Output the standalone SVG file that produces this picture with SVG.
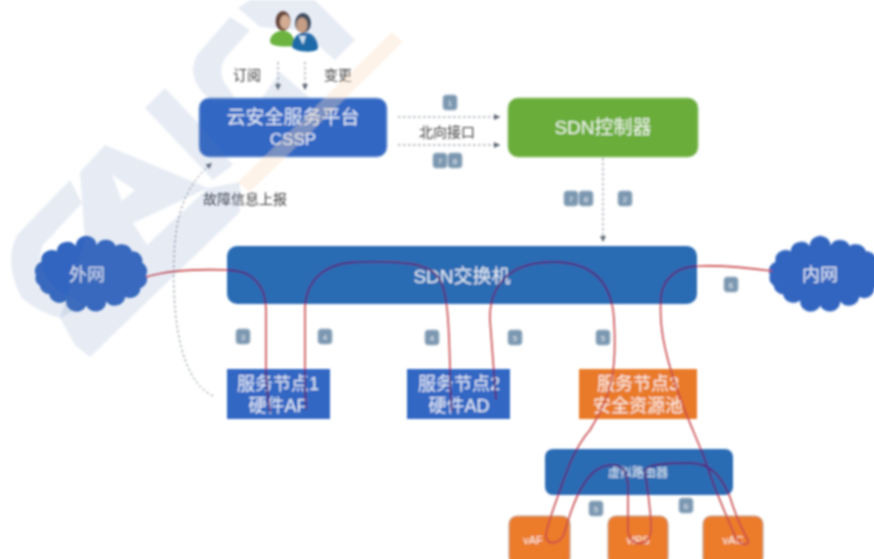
<svg xmlns="http://www.w3.org/2000/svg" width="874" height="559" viewBox="0 0 874 559">
<style>
text{font-family:"Liberation Sans","Noto Sans CJK SC",sans-serif;text-anchor:middle}
.w{fill:#fff;fill-opacity:.88}
.d{fill:#3d3d3d;font-size:14px}
.b1{fill:#2b6cb4}
.b2{fill:#3368c4;stroke:#8fb0de;stroke-width:1}
.o{fill:#ec7c2c;stroke:#b9a08c;stroke-width:1}
.cl{fill:#3265c0}
.dash{fill:none;stroke:#77808c;stroke-width:1;stroke-dasharray:2.5 2.5}
.red{fill:none;stroke:#c9484c;stroke-width:1.6}
.pur{fill:none;stroke:#4c2c85;stroke-width:1.8}
.bd{fill:#7b97b0;stroke:#a9bccd;stroke-width:1}
.bt{fill:#e8eef4;font-size:8px}
.wm{fill:#5f7fb5;fill-opacity:.15}
</style>
<defs>
<filter id="soft" x="0" y="0" width="874" height="559" filterUnits="userSpaceOnUse"><feGaussianBlur stdDeviation="0.8"/></filter>
<marker id="ah" markerWidth="7" markerHeight="7" refX="6" refY="3" orient="auto" markerUnits="userSpaceOnUse"><path d="M0,0L6,3L0,6Z" fill="#5f6775"/></marker>
<path id="cloud" d="M-58,0A11,11 0 0 1 -52,-15A11,11 0 0 1 -36,-27A11,11 0 0 1 -16,-33A11,11 0 0 1 6,-34A11,11 0 0 1 26,-33A11,11 0 0 1 43,-27A11,11 0 0 1 54,-14A11,11 0 0 1 58,0A11,11 0 0 1 52,15A11,11 0 0 1 36,25A11,11 0 0 1 16,30A11,11 0 0 1 -5,35A11,11 0 0 1 -26,29A11,11 0 0 1 -44,22A11,11 0 0 1 -54,12A11,11 0 0 1 -58,0Z"/>
<clipPath id="blues"><rect x="227" y="246" width="470" height="58" rx="10"/><rect x="227" y="369" width="103" height="50"/><rect x="407" y="369" width="103" height="50"/><rect x="545" y="449" width="188" height="46" rx="8"/></clipPath>
</defs>
<rect width="874" height="559" fill="#fff"/>
<g filter="url(#soft)">
<g id="people">
<path d="M270,42C270,34 278,30 284,31C291,31 295,38 295,46C285,47 272,47 270,42Z" fill="#6cb33f"/>
<ellipse cx="283" cy="21" rx="7.5" ry="10" fill="#6b3f2a"/>
<ellipse cx="285" cy="22" rx="5" ry="7" fill="#e8b48e"/>
<path d="M292,47C292,38 298,32 305,33C313,32 318,40 318,48C318,53 296,53 292,47Z" fill="#1f6aa8"/>
<ellipse cx="303" cy="23" rx="8" ry="10" fill="#3a4550"/>
<ellipse cx="302" cy="25" rx="5.5" ry="7.5" fill="#d8a27c"/>
<path d="M299,36L303,45L306,36Z" fill="#cfe3f2"/>
</g>
<g id="connectors">
<path class="dash" d="M278,62V90" marker-end="url(#ah)"/>
<path class="dash" d="M305,62V90" stroke-dasharray="2 3" marker-end="url(#ah)"/>
<path class="dash" d="M398,117H500" marker-end="url(#ah)"/>
<path class="dash" d="M398,145H500" marker-end="url(#ah)"/>
<path class="dash" d="M603,158V242" marker-end="url(#ah)"/>
<path class="dash" d="M213,396C190,385 176,350 174,290C172,225 180,190 212,163" marker-end="url(#ah)"/>
</g>
<g id="node-cssp"><rect class="b2" x="199" y="98" width="188" height="59" rx="10"/><text class="w" x="293" y="124" font-size="19">云安全服务平台</text><text class="w" x="293" y="145" font-size="17">CSSP</text></g>
<g id="node-controller"><rect x="508" y="98" width="190" height="59" rx="10" fill="#6aad3b" stroke="#9cc87c"/><text class="w" x="603" y="134" font-size="19">SDN控制器</text></g>
<g id="node-switch"><rect class="b1" x="227" y="246" width="470" height="58" rx="10"/><text class="w" x="462" y="283" font-size="19">SDN交换机</text></g>
<g id="node-wan"><use href="#cloud" class="cl" transform="translate(91,275) scale(.95,.88)"/><text class="w" x="87" y="281" font-size="18">外网</text></g>
<g id="node-lan"><use href="#cloud" class="cl" transform="translate(825,275) scale(.95,.88)"/><text class="w" x="820" y="281" font-size="18">内网</text></g>
<g id="node-sn1"><rect x="227" y="369" width="103" height="50" fill="#3368c4"/><text class="w" x="278" y="390" font-size="18">服务节点1</text><text class="w" x="278" y="412" font-size="18">硬件AF</text></g>
<g id="node-sn2"><rect x="407" y="369" width="103" height="50" fill="#3368c4"/><text class="w" x="459" y="390" font-size="18">服务节点2</text><text class="w" x="459" y="412" font-size="18">硬件AD</text></g>
<g id="node-sn3"><rect x="579" y="369" width="118" height="50" fill="#e97a2a"/><text class="w" x="638" y="390" font-size="18">服务节点3</text><text class="w" x="638" y="412" font-size="18">安全资源池</text></g>
<g id="node-vrouter"><rect class="b1" x="545" y="449" width="188" height="46" rx="8"/><text class="w" x="638" y="477" font-size="12">虚拟路由器</text></g>
<g id="node-vaf"><rect class="o" x="509" y="516" width="61" height="50" rx="8"/><text class="w" x="533" y="544" font-size="11">vAF</text></g>
<g id="node-vips"><rect class="o" x="608" y="516" width="60" height="50" rx="8"/><text class="w" x="638" y="544" font-size="11">vIPS</text></g>
<g id="node-vac"><rect class="o" x="703" y="516" width="60" height="50" rx="8"/><text class="w" x="733" y="544" font-size="11">vAC</text></g>
<g id="links">
<g id="traffic" class="red">
<path d="M146,277C170,270 200,269 227,270C252,270 266,285 266,310V370Q267,395 270,412"/>
<path d="M306,410Q305,390 305,370L305,310C305,280 325,262 360,262C400,261 430,262 440,280C447,292 449,320 450,370Q450,395 452,412"/>
<path d="M496,400L490,320C489,290 505,262 553,262C590,262 612,280 614,320C617,370 612,395 590,430C575,447 567,470 560,490C555,505 545,530 546,537C548,546 560,544 564,534C568,520 574,500 582,487C590,473 600,465 612,465C622,465 628,470 628,490V530C629,548 650,548 651,530C652,518 648,495 645,470"/>
<path d="M645,470C650,464 665,463 690,463C712,463 722,478 730,497C735,515 745,535 748,540C750,547 740,545 736,538C728,520 715,490 705,460C698,440 680,405 668,360C660,330 660,313 661,295C665,275 680,266 700,266C725,265 750,268 772,271"/>
</g>
<g clip-path="url(#blues)">
<path class="pur" d="M146,277C170,270 200,269 227,270C252,270 266,285 266,310V370Q267,395 270,412"/>
<path class="pur" d="M306,410Q305,390 305,370L305,310C305,280 325,262 360,262C400,261 430,262 440,280C447,292 449,320 450,370Q450,395 452,412"/>
<path class="pur" d="M496,400L490,320C489,290 505,262 553,262C590,262 612,280 614,320C617,370 612,395 590,430C575,447 567,470 560,490C555,505 545,530 546,537C548,546 560,544 564,534C568,520 574,500 582,487C590,473 600,465 612,465C622,465 628,470 628,490V530C629,548 650,548 651,530C652,518 648,495 645,470"/>
<path class="pur" d="M645,470C650,464 665,463 690,463C712,463 722,478 730,497C735,515 745,535 748,540C750,547 740,545 736,538C728,520 715,490 705,460C698,440 680,405 668,360C660,330 660,313 661,295C665,275 680,266 700,266C725,265 750,268 772,271"/>
</g>
</g>
<g id="badges">
<rect class="bd" x="443" y="95" width="14" height="15" rx="3"/><text class="bt" x="450" y="106">1</text>
<rect class="bd" x="433" y="153" width="14" height="15" rx="3"/><text class="bt" x="440" y="164">7</text>
<rect class="bd" x="448" y="153" width="14" height="15" rx="3"/><text class="bt" x="455" y="164">8</text>
<rect class="bd" x="564" y="191" width="14" height="15" rx="3"/><text class="bt" x="571" y="202">7</text>
<rect class="bd" x="579" y="191" width="14" height="15" rx="3"/><text class="bt" x="586" y="202">8</text>
<rect class="bd" x="618" y="191" width="14" height="15" rx="3"/><text class="bt" x="625" y="202">2</text>
<rect class="bd" x="236" y="329" width="14" height="15" rx="3"/><text class="bt" x="243" y="340">3</text>
<rect class="bd" x="318" y="329" width="14" height="15" rx="3"/><text class="bt" x="325" y="340">4</text>
<rect class="bd" x="425" y="330" width="14" height="15" rx="3"/><text class="bt" x="432" y="341">4</text>
<rect class="bd" x="508" y="330" width="14" height="15" rx="3"/><text class="bt" x="515" y="341">5</text>
<rect class="bd" x="596" y="330" width="14" height="15" rx="3"/><text class="bt" x="603" y="341">5</text>
<rect class="bd" x="724" y="277" width="14" height="15" rx="3"/><text class="bt" x="731" y="288">6</text>
<rect class="bd" x="589" y="501" width="14" height="15" rx="3"/><text class="bt" x="596" y="512">5</text>
<rect class="bd" x="679" y="498" width="14" height="15" rx="3"/><text class="bt" x="686" y="509">6</text>
</g>
<g id="labels">
<text class="d" x="247" y="80">订阅</text>
<text class="d" x="338" y="80">变更</text>
<text class="d" x="447" y="137">北向接口</text>
<text class="d" x="245" y="204">故障信息上报</text>
</g>
<g id="watermark">
<path class="wm" d="M70,180L17,235Q3,265 22,298Q38,312 60,318L85,305L58,290Q33,265 43,245L82,203Z"/>
<path class="wm" fill-rule="evenodd" d="M105,145L80,172L85,240L60,318L75,345L90,357L240,212V182L208,188Z M112,175L135,190L122,201Z M133,223L208,188L147,245Z"/>
<path class="wm" d="M165,88L145,108L213,180L233,165L200,125Z"/>
<path class="wm" d="M230,17L197,55Q186,75 205,95L215,103L235,98L223,80Q218,65 228,55L250,30Z"/>
<path class="wm" d="M250,0L238,8L260,27L300,30L335,60L355,40L315,0Z"/>
<path class="wm" d="M262,98L280,72L310,98Z"/>
<path d="M392,32L403,42L250,192L238,182Z" fill="#fbdcc0" fill-opacity=".35"/>
</g>
</g>
</svg>
